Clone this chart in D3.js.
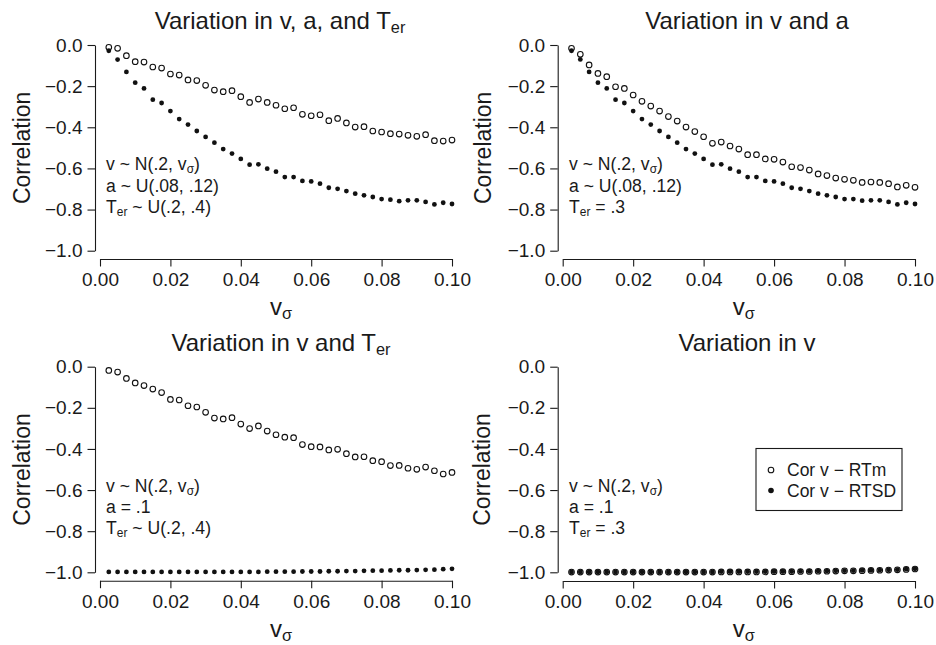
<!DOCTYPE html>
<html lang="en">
<head>
  <meta charset="UTF-8">
  <title>Correlation of v with RT mean and RT SD</title>
  <script src="https://d3js.org/d3.v7.min.js"></script>
  <style>
    body {
      margin: 0;
      padding: 0;
      background: #fff;
    }
    svg text {
      font-family: "Liberation Sans", Arial, Helvetica, sans-serif;
      fill: #1a1a1a;
    }
    .axis path, .axis line {
      stroke: #1a1a1a;
      stroke-width: 1.1;
    }
    .axis text {
      font-size: 19px;
    }
  </style>
</head>
<body>
<div id="chart"></div>

<script>
  // x values (v sigma)
  const vSigma = [0.0025, 0.005, 0.0075, 0.01, 0.0125, 0.015, 0.0175, 0.02, 0.0225, 0.025,
                  0.0275, 0.03, 0.0325, 0.035, 0.0375, 0.04, 0.0425, 0.045, 0.0475, 0.05,
                  0.0525, 0.055, 0.0575, 0.06, 0.0625, 0.065, 0.0675, 0.07, 0.0725, 0.075,
                  0.0775, 0.08, 0.0825, 0.085, 0.0875, 0.09, 0.0925, 0.095, 0.0975, 0.1];

  // panel 1: variation in v, a and Ter
  const rtmVaT = [-0.011, -0.016, -0.052, -0.081, -0.083, -0.107, -0.112, -0.141, -0.146, -0.170,
                  -0.173, -0.196, -0.219, -0.227, -0.222, -0.251, -0.279, -0.263, -0.279, -0.293,
                  -0.310, -0.305, -0.337, -0.344, -0.339, -0.368, -0.357, -0.379, -0.399, -0.397,
                  -0.418, -0.423, -0.431, -0.433, -0.439, -0.444, -0.436, -0.465, -0.467, -0.462];
  const rtsdVaT = [-0.028, -0.071, -0.131, -0.183, -0.211, -0.266, -0.282, -0.321, -0.360, -0.387,
                   -0.418, -0.447, -0.475, -0.506, -0.528, -0.554, -0.582, -0.580, -0.601, -0.616,
                   -0.642, -0.642, -0.661, -0.663, -0.674, -0.694, -0.699, -0.710, -0.723, -0.731,
                   -0.739, -0.749, -0.752, -0.759, -0.755, -0.755, -0.763, -0.775, -0.767, -0.773];

  // panel 2: variation in v and a
  const rtmVa = [-0.016, -0.045, -0.097, -0.138, -0.154, -0.203, -0.211, -0.243, -0.274, -0.297,
                 -0.321, -0.348, -0.370, -0.399, -0.421, -0.446, -0.478, -0.472, -0.491, -0.506,
                 -0.533, -0.533, -0.554, -0.556, -0.569, -0.592, -0.596, -0.608, -0.627, -0.635,
                 -0.647, -0.653, -0.658, -0.668, -0.666, -0.668, -0.674, -0.690, -0.682, -0.692];
  const rtsdVa = [-0.028, -0.070, -0.131, -0.183, -0.211, -0.266, -0.282, -0.321, -0.360, -0.387,
                  -0.418, -0.447, -0.475, -0.506, -0.528, -0.554, -0.582, -0.580, -0.601, -0.616,
                  -0.642, -0.642, -0.661, -0.663, -0.674, -0.694, -0.699, -0.710, -0.723, -0.731,
                  -0.739, -0.749, -0.749, -0.757, -0.755, -0.755, -0.763, -0.775, -0.767, -0.773];

  // panel 3: variation in v and Ter
  const rtmVT = [-0.018, -0.026, -0.057, -0.079, -0.092, -0.109, -0.126, -0.159, -0.162, -0.190,
                 -0.196, -0.222, -0.250, -0.254, -0.248, -0.279, -0.301, -0.288, -0.313, -0.331,
                 -0.343, -0.345, -0.379, -0.389, -0.390, -0.405, -0.402, -0.423, -0.439, -0.438,
                 -0.457, -0.462, -0.481, -0.480, -0.494, -0.499, -0.488, -0.506, -0.522, -0.514];
  const rtsdVT = [-0.998, -0.998, -0.998, -0.998, -0.998, -0.998, -0.998, -0.998, -0.998, -0.998,
                  -0.998, -0.998, -0.998, -0.998, -0.998, -0.998, -0.998, -0.998, -0.997, -0.997,
                  -0.997, -0.997, -0.996, -0.996, -0.996, -0.995, -0.995, -0.994, -0.994, -0.993,
                  -0.992, -0.992, -0.991, -0.990, -0.990, -0.989, -0.988, -0.987, -0.985, -0.983];

  // panel 4: variation in v only
  const rtmV = [-0.999, -0.999, -0.999, -0.999, -0.999, -0.999, -0.999, -0.999, -0.999, -0.999,
                -0.999, -0.999, -0.999, -0.999, -0.999, -0.999, -0.999, -0.998, -0.998, -0.998,
                -0.998, -0.998, -0.998, -0.997, -0.997, -0.997, -0.996, -0.996, -0.995, -0.995,
                -0.994, -0.993, -0.993, -0.992, -0.991, -0.990, -0.989, -0.988, -0.986, -0.984];
  const rtsdV = [-0.998, -0.998, -0.998, -0.998, -0.998, -0.998, -0.998, -0.998, -0.998, -0.998,
                 -0.998, -0.998, -0.998, -0.998, -0.998, -0.998, -0.998, -0.997, -0.997, -0.997,
                 -0.997, -0.997, -0.997, -0.996, -0.996, -0.996, -0.995, -0.995, -0.994, -0.994,
                 -0.993, -0.992, -0.992, -0.991, -0.990, -0.989, -0.988, -0.987, -0.985, -0.983];

  const xTicks = [0, 0.02, 0.04, 0.06, 0.08, 0.10];
  const yTicks = [0, -0.2, -0.4, -0.6, -0.8, -1.0];
  const legendLabels = ["Cor v \u2212 RTm", "Cor v \u2212 RTSD"];

  // text pieces: [text, isSubscript]
  const panels = [
    { title: [["Variation in v, a, and T", 0], ["er", 1]], rtm: rtmVaT, rtsd: rtsdVaT,
      notes: [[["v ~ N(.2, v", 0], ["\u03c3", 1], [")", 0]], [["a ~ U(.08, .12)", 0]], [["T", 0], ["er", 1], [" ~ U(.2, .4)", 0]]],
      x0: 100, x1: 452, y0: 45, y1: 250.7, yAxisX: 95, xAxisY: 259, titleX: 280, ylabX: 22, noteX: 106 },
    { title: [["Variation in v and a", 0]], rtm: rtmVa, rtsd: rtsdVa,
      notes: [[["v ~ N(.2, v", 0], ["\u03c3", 1], [")", 0]], [["a ~ U(.08, .12)", 0]], [["T", 0], ["er", 1], [" = .3", 0]]],
      x0: 562.7, x1: 915, y0: 45, y1: 250.7, yAxisX: 557.7, xAxisY: 259, titleX: 747, ylabX: 483, noteX: 569 },
    { title: [["Variation in v and T", 0], ["er", 1]], rtm: rtmVT, rtsd: rtsdVT,
      notes: [[["v ~ N(.2, v", 0], ["\u03c3", 1], [")", 0]], [["a = .1", 0]], [["T", 0], ["er", 1], [" ~ U(.2, .4)", 0]]],
      x0: 100, x1: 452, y0: 366.7, y1: 572.3, yAxisX: 95, xAxisY: 580.7, titleX: 281, ylabX: 22, noteX: 106 },
    { title: [["Variation in v", 0]], rtm: rtmV, rtsd: rtsdV,
      notes: [[["v ~ N(.2, v", 0], ["\u03c3", 1], [")", 0]], [["a = .1", 0]], [["T", 0], ["er", 1], [" = .3", 0]]],
      x0: 562.7, x1: 915, y0: 366.7, y1: 572.3, yAxisX: 557.7, xAxisY: 581, titleX: 747, ylabX: 482, noteX: 569,
      legend: true }
  ];

  const width = 936, height = 645;
  const svg = d3.select("#chart").append("svg")
    .attr("width", width)
    .attr("height", height);

  function richText(sel, parts, size) {
    parts.forEach(([t, sub]) => {
      sel.append("tspan")
        .attr("font-size", sub ? size * 0.68 : size)
        .attr("baseline-shift", sub ? "-22%" : null)
        .text(t);
    });
  }

  panels.forEach(p => {
    const x = d3.scaleLinear().domain([0, 0.1]).range([p.x0, p.x1]);
    const y = d3.scaleLinear().domain([0, -1]).range([p.y0, p.y1]);
    const g = svg.append("g");

    // axes (R style, detached from plot region)
    g.append("g")
      .attr("class", "axis")
      .attr("transform", `translate(0,${p.xAxisY})`)
      .call(d3.axisBottom(x).tickValues(xTicks).tickFormat(d3.format(".2f")).tickSize(7.5).tickSizeOuter(0).tickPadding(6));
    g.append("g")
      .attr("class", "axis")
      .attr("transform", `translate(${p.yAxisX},0)`)
      .call(d3.axisLeft(y).tickValues(yTicks).tickFormat(d3.format(".1f")).tickSize(7.5).tickSizeOuter(0).tickPadding(5));

    // title
    const title = g.append("text")
      .attr("x", p.titleX)
      .attr("y", p.y0 - 16)
      .attr("text-anchor", "middle");
    richText(title, p.title, 24);

    // axis labels
    g.append("text")
      .attr("transform", `translate(${p.ylabX},${y(-0.5)}) rotate(-90)`)
      .attr("text-anchor", "middle")
      .attr("dominant-baseline", "central")
      .attr("font-size", 23)
      .text("Correlation");
    const xl = g.append("text")
      .attr("x", (p.x0 + p.x1) / 2 + 5)
      .attr("y", p.xAxisY + 56)
      .attr("text-anchor", "middle");
    richText(xl, [["v", 0], ["\u03c3", 1]], 24);

    // notes
    [-0.583, -0.686, -0.789].forEach((yy, i) => {
      const t = g.append("text")
        .attr("x", p.noteX)
        .attr("y", y(yy) + 5.5);
      richText(t, p.notes[i], 17.6);
    });

    // points: RTm open first, RTSD filled on top
    g.append("g").selectAll("circle")
      .data(vSigma.map((v, i) => [v, p.rtm[i]]))
      .join("circle")
      .attr("cx", d => x(d[0]))
      .attr("cy", d => y(d[1]))
      .attr("r", 2.8)
      .attr("fill", "#fff")
      .attr("stroke", "#111")
      .attr("stroke-width", 1.1);
    g.append("g").selectAll("circle")
      .data(vSigma.map((v, i) => [v, p.rtsd[i]]))
      .join("circle")
      .attr("cx", d => x(d[0]))
      .attr("cy", d => y(d[1]))
      .attr("r", 2.4)
      .attr("fill", "#111");

    if (p.legend) {
      const lg = g.append("g");
      lg.append("rect")
        .attr("x", 756).attr("y", 448.5)
        .attr("width", 146).attr("height", 62)
        .attr("fill", "#fff")
        .attr("stroke", "#1a1a1a")
        .attr("stroke-width", 1.1);
      legendLabels.forEach((lab, i) => {
        const cy = 470 + i * 20.5;
        if (i === 0) {
          lg.append("circle").attr("cx", 771).attr("cy", cy).attr("r", 2.8)
            .attr("fill", "#fff").attr("stroke", "#111").attr("stroke-width", 1.1);
        } else {
          lg.append("circle").attr("cx", 771).attr("cy", cy).attr("r", 2.8).attr("fill", "#111");
        }
        lg.append("text")
          .attr("x", 787).attr("y", cy + 6)
          .attr("font-size", 17.5)
          .text(lab);
      });
    }
  });
</script>
</body>
</html>
